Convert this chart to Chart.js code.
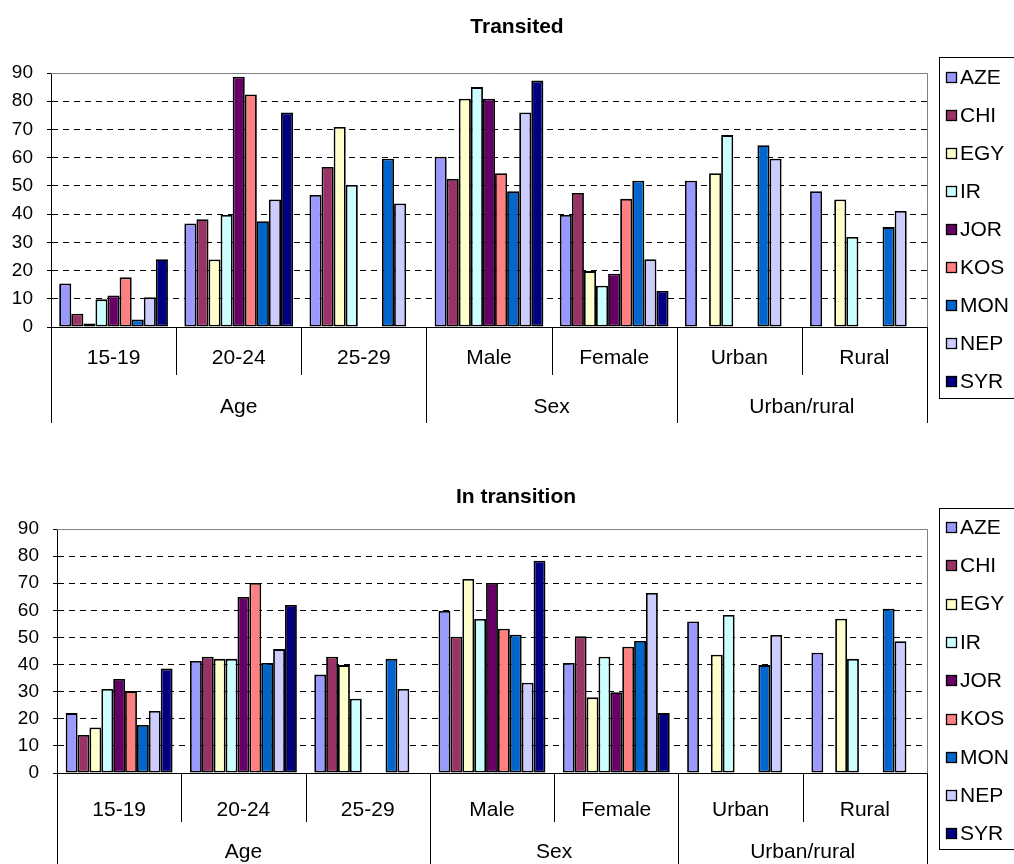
<!DOCTYPE html>
<html>
<head>
<meta charset="utf-8">
<title>Transited / In transition</title>
<script src="https://cdn.jsdelivr.net/npm/chart.js@4.4.1/dist/chart.umd.min.js"></script>
<style>
  html, body { margin: 0; padding: 0; background: #fff; }
  canvas { display: block; }
</style>
</head>
<body>
<canvas id="transitedChart" width="1014" height="432"></canvas>
<canvas id="transitionChart" width="1014" height="432"></canvas>
<script>
// Categories along the x axis and the groups they belong to
const categories = ['15-19', '20-24', '25-29', 'Male', 'Female', 'Urban', 'Rural'];
const groupLabels = ['Age', 'Sex', 'Urban/rural'];
const groupSizes = [3, 2, 2];

// Countries (one series each) and their fill colours
const countries = ['AZE', 'CHI', 'EGY', 'IR', 'JOR', 'KOS', 'MON', 'NEP', 'SYR'];
const countryColors = ['#9999FF', '#993366', '#FFFFCC', '#CCFFFF', '#660066', '#FF8080', '#0066CC', '#CCCCFF', '#000080'];

// Y axis range
const yMin = 0;
const yMax = 90;
const yStep = 10;

// Percent transited, one row per country, columns follow `categories`
const transited = [
  [15.4, 36.7, 46.8, 60.3, 39.7, 51.8, 48.1],   // AZE
  [4.7, 38.2, 56.7, 52.5, 47.5, null, null],    // CHI
  [1.2, 23.9, 70.9, 80.9, 19.8, 54.5, 45.2],    // EGY
  [9.8, 39.7, 50.3, 85.0, 14.6, 68.0, 31.9],    // IR
  [11.2, 88.7, null, 80.9, 18.9, null, null],   // JOR
  [17.6, 82.4, null, 54.5, 45.4, null, null],   // KOS
  [2.7, 37.5, 59.6, 48.1, 51.8, 64.4, 35.4],    // MON
  [10.5, 45.2, 43.8, 76.0, 24.0, 59.6, 41.1],   // NEP
  [24.0, 76.0, null, 87.3, 12.8, null, null]    // SYR
];

// Percent in transition, same layout
const inTransition = [
  [22.1, 41.3, 36.3, 59.8, 40.6, 55.9, 44.4],   // AZE
  [14.0, 42.9, 42.9, 50.3, 50.4, null, null],   // CHI
  [16.8, 42.1, 39.8, 71.6, 27.9, 43.6, 56.9],   // EGY
  [31.0, 42.1, 27.4, 56.8, 42.9, 58.3, 42.1],   // IR
  [34.7, 64.9, null, 70.1, 29.8, null, null],   // JOR
  [30.2, 70.1, null, 53.2, 46.6, null, null],   // KOS
  [17.7, 40.6, 42.1, 51.0, 48.7, 39.8, 60.6],   // MON
  [22.9, 45.7, 31.0, 33.3, 66.4, 50.9, 48.6],   // NEP
  [38.5, 62.0, null, 78.3, 22.1, null, null]    // SYR
];

const FONT = "'Liberation Sans', Arial, sans-serif";

// Draws the title, the plot frame, the two-level category axis and the boxed legend
const decorPlugin = {
  id: 'decor',
  beforeDatasetsDraw(chart) {
    const { ctx, chartArea: a } = chart;
    ctx.save();
    ctx.strokeStyle = '#808080';
    ctx.lineWidth = 1;
    ctx.beginPath();
    ctx.moveTo(a.left, Math.round(a.top) + 0.5);
    ctx.lineTo(Math.round(a.right) + 0.5, Math.round(a.top) + 0.5);
    ctx.lineTo(Math.round(a.right) + 0.5, a.bottom);
    ctx.stroke();
    ctx.restore();
  },
  afterDraw(chart, args, o) {
    const { ctx, chartArea: a } = chart;
    const xs = chart.scales.x;
    const n = chart.data.labels.length;
    const cw = (a.right - a.left) / n;
    const base = Math.round(a.bottom);
    ctx.save();

    // title
    ctx.fillStyle = '#000';
    ctx.font = 'bold 21px ' + FONT;
    ctx.textAlign = 'center';
    ctx.textBaseline = 'middle';
    ctx.fillText(o.title, o.titleX, o.titleY);

    // category boundaries: short inside a group, long between groups
    const groupEdges = new Set([0]);
    let acc = 0;
    groupSizes.forEach(s => { acc += s; groupEdges.add(acc); });
    ctx.strokeStyle = '#000';
    ctx.lineWidth = 1;
    for (let i = 0; i <= n; i++) {
      const x = Math.round(a.left + i * cw) + 0.5;
      const drop = groupEdges.has(i) ? o.outerDrop : o.innerDrop;
      ctx.beginPath();
      ctx.moveTo(x, base);
      ctx.lineTo(x, base + drop);
      ctx.stroke();
    }

    // category labels
    ctx.font = '21px ' + FONT;
    chart.data.labels.forEach((lab, i) => {
      ctx.fillText(lab, xs.getPixelForValue(i), base + o.catOffset);
    });

    // group labels
    let start = 0;
    groupLabels.forEach((g, gi) => {
      const end = start + groupSizes[gi] - 1;
      const cx = (xs.getPixelForValue(start) + xs.getPixelForValue(end)) / 2;
      ctx.fillText(g, cx, base + o.groupOffset);
      start = end + 1;
    });

    // legend
    const L = o.legend;
    ctx.strokeStyle = '#000';
    ctx.strokeRect(L.x + 0.5, L.top + 0.5, 120, L.bottom - L.top);
    ctx.textAlign = 'left';
    ctx.font = '21px ' + FONT;
    chart.data.datasets.forEach((ds, i) => {
      const cy = L.first + i * L.step;
      ctx.fillStyle = ds.backgroundColor;
      ctx.fillRect(L.x + 7, Math.round(cy - 5), 10, 10);
      ctx.lineWidth = 1.3;
      ctx.strokeRect(L.x + 7.5, Math.round(cy - 5) + 0.5, 10, 10);
      ctx.fillStyle = '#000';
      ctx.fillText(ds.label, L.x + 21, cy + 1);
    });
    ctx.restore();
  }
};

function buildChart(id, rows, cfg) {
  const datasets = countries.map((c, i) => ({
    label: c,
    data: rows[i],
    backgroundColor: countryColors[i],
    borderColor: '#000',
    borderWidth: 1.8,
    borderSkipped: false,
    categoryPercentage: cfg.catPct,
    barPercentage: 1.0
  }));
  return new Chart(document.getElementById(id), {
    type: 'bar',
    data: { labels: categories, datasets },
    options: {
      responsive: false,
      devicePixelRatio: 1,
      animation: false,
      layout: { padding: cfg.padding },
      plugins: {
        legend: { display: false },
        tooltip: { enabled: false },
        title: { display: false },
        decor: cfg.decor
      },
      scales: {
        x: {
          grid: { display: false },
          ticks: { display: false },
          border: { color: '#000', width: 1 },
          afterFit: s => { s.height = 0; }
        },
        y: {
          min: yMin,
          max: yMax,
          ticks: {
            stepSize: yStep,
            color: '#000',
            padding: 14,
            font: { family: FONT, size: 19 }
          },
          grid: {
            color: c => (c.tick && (c.tick.value === yMin || c.tick.value === yMax)) ? 'rgba(0,0,0,0)' : '#000',
            tickColor: '#000',
            tickLength: 4,
            lineWidth: 1
          },
          border: { color: '#000', width: 1, dash: [6, 5] },
          afterFit: s => { s.width = cfg.axisWidth; }
        }
      }
    },
    plugins: [decorPlugin]
  });
}

buildChart('transitedChart', transited, {
  catPct: 0.869,
  axisWidth: 51,
  padding: { top: 73, right: 87, bottom: 105, left: 0 },
  decor: {
    title: 'Transited', titleX: 517, titleY: 27,
    catOffset: 31, groupOffset: 80, innerDrop: 48, outerDrop: 96,
    legend: { x: 939, top: 57, bottom: 398, first: 77, step: 38 }
  }
});

buildChart('transitionChart', inTransition, {
  catPct: 0.86,
  axisWidth: 57,
  padding: { top: 97, right: 87, bottom: 91, left: 0 },
  decor: {
    title: 'In transition', titleX: 516, titleY: 65,
    catOffset: 37, groupOffset: 79, innerDrop: 49, outerDrop: 100,
    legend: { x: 939, top: 76, bottom: 417, first: 95, step: 38.3 }
  }
});
</script>
</body>
</html>
